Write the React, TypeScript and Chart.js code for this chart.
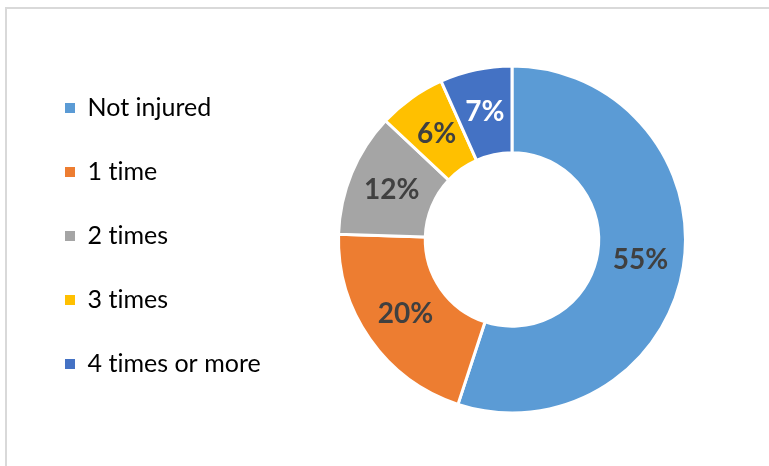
import React, { useEffect, useRef } from "react";
import { Chart, registerables } from "chart.js";

Chart.register(...registerables);

const categories = ["Not injured", "1 time", "2 times", "3 times", "4 times or more"];
const shares = [55.04, 20.44, 11.52, 6.3, 6.7];
const colors = ["#5B9BD5", "#ED7D31", "#A5A5A5", "#FFC000", "#4472C4"];
const labelColors = ["#404040", "#404040", "#404040", "#404040", "#FFFFFF"];

const noLigatures = {
  id: "noLigatures",
  beforeDraw(chart: any) {
    (chart.ctx as any).letterSpacing = "0.01px";
  },
};

const sliceLabels = {
  id: "sliceLabels",
  afterDatasetsDraw(chart: any) {
    const ctx = chart.ctx;
    const meta = chart.getDatasetMeta(0);
    const data = chart.data.datasets[0].data as number[];
    const total = data.reduce((a, b) => a + b, 0);
    ctx.save();
    ctx.font = "bold 28px Lato";
    ctx.textAlign = "center";
    ctx.textBaseline = "middle";
    meta.data.forEach((arc: any, i: number) => {
      const p = arc.tooltipPosition();
      ctx.fillStyle = labelColors[i];
      ctx.fillText(Math.round((data[i] / total) * 100) + "%", p.x, p.y);
    });
    ctx.restore();
  },
};

export default function App() {
  const ref = useRef<HTMLCanvasElement>(null);
  useEffect(() => {
    const chart = new Chart(ref.current!, {
      type: "doughnut",
      data: {
        labels: categories,
        datasets: [
          {
            data: shares,
            backgroundColor: colors,
            borderColor: "#FFFFFF",
            borderWidth: 3,
          },
        ],
      },
      options: {
        responsive: false,
        animation: false,
        devicePixelRatio: 1,
        cutout: "50%",
        radius: 173.5,
        layout: { padding: { top: 56.5, bottom: 43.5, left: 26, right: 16 } },
        plugins: {
          tooltip: { enabled: false },
          legend: {
            position: "left",
            align: "start",
            labels: {
              boxWidth: 10,
              boxHeight: 10,
              padding: 39,
              color: "#595959",
              font: { family: "Lato", size: 25 },
              generateLabels() {
                return categories.map((t, i) => ({
                  text: t,
                  fillStyle: colors[i],
                  strokeStyle: colors[i],
                  lineWidth: 0,
                  hidden: false,
                  index: i,
                }));
              },
            },
          },
        },
      } as any,
      plugins: [noLigatures, sliceLabels],
    });
    return () => chart.destroy();
  }, []);
  return (
    <div style={{ position: "fixed", left: 0, top: 0, width: 769, height: 466, overflow: "hidden", background: "#fff" }}>
      <div style={{ position: "absolute", left: 5, top: 7, width: 900, height: 600, border: "2px solid #D9D9D9" }} />
      <canvas ref={ref} width={769} height={466} style={{ position: "absolute", left: 0, top: 0 }} />
    </div>
  );
}
